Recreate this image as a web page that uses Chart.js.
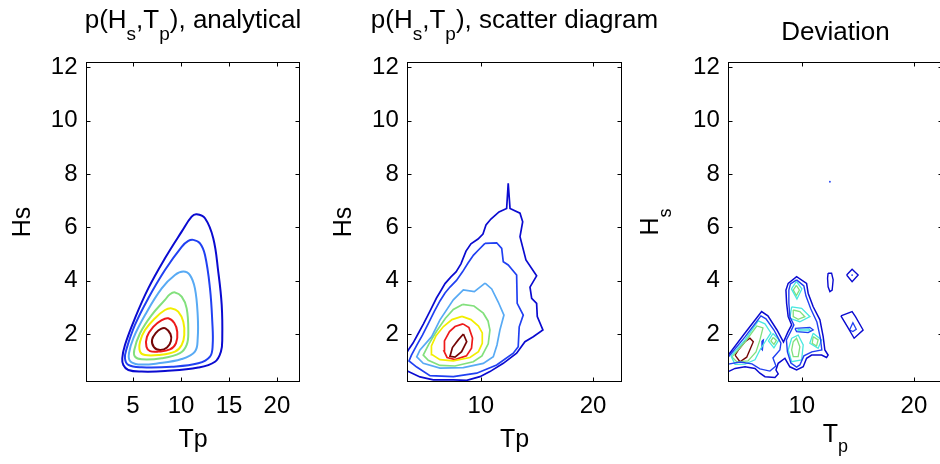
<!DOCTYPE html>
<html>
<head>
<meta charset="utf-8">
<script src="https://cdn.jsdelivr.net/npm/chart.js@4.4.1/dist/chart.umd.min.js"></script>
<style>
  html, body { margin: 0; padding: 0; background: #fff; overflow: hidden; width: 940px; height: 464px; }
  canvas { position: absolute; top: 0; }
</style>
</head>
<body>
<canvas id="analytical" width="320" height="464" style="left:0;width:320px;height:464px"></canvas>
<canvas id="scatter" width="360" height="464" style="left:320px;width:360px;height:464px"></canvas>
<canvas id="deviation" width="320" height="464" style="left:640px;width:320px;height:464px"></canvas>
<script>
// ---- axes ----
const hsTicks = [2, 4, 6, 8, 10, 12];
const tpTicksAnalytical = [5, 10, 15, 20];
const tpTicksScatter = [10, 20];
const hsRange = [0.2, 12.2];
const tpRangeAnalytical = [0.1, 22.4];
const tpRangeScatter = [3.45, 22.55];

// ---- analytical joint density p(Hs,Tp): contour lines [Tp, Hs], outermost level first ----
const anaLevel1 = [[11.63,6.49],[12.50,6.34],[13.36,5.59],[13.88,4.34],[14.24,3.09],[14.30,1.84],[14.16,1.34],[13.54,0.96],[11.80,0.74],[8.33,0.61],[5.90,0.59],[4.51,0.65],[3.99,0.84],[3.88,1.09],[4.16,1.59],[5.20,2.59],[6.59,3.71],[8.33,4.84],[10.07,5.84],[11.11,6.40]];
const anaLevel2 = [[11.28,5.53],[11.98,5.40],[12.50,4.96],[13.02,3.71],[13.26,2.46],[13.30,1.59],[13.02,1.15],[11.80,0.90],[9.03,0.77],[5.90,0.75],[4.51,0.84],[4.16,1.09],[4.34,1.46],[5.20,2.34],[6.59,3.34],[8.33,4.40],[10.07,5.27],[10.76,5.49]];
const anaLevel3 = [[10.24,4.34],[10.93,4.21],[11.45,3.71],[11.74,2.71],[11.74,1.84],[11.45,1.34],[10.07,1.06],[7.63,0.90],[5.55,0.86],[4.68,0.99],[4.58,1.28],[5.03,1.84],[6.25,2.71],[7.99,3.71],[9.37,4.21]];
const anaLevel4 = [[9.37,3.56],[10.07,3.40],[10.59,2.96],[10.76,2.09],[10.59,1.59],[9.89,1.28],[7.99,1.09],[5.90,1.05],[5.20,1.15],[5.13,1.40],[5.73,2.03],[6.94,2.71],[8.33,3.28],[8.85,3.49]];
const anaLevel5 = [[9.03,2.96],[9.71,2.84],[10.24,2.46],[10.34,1.96],[10.07,1.59],[9.37,1.34],[7.63,1.21],[6.25,1.21],[5.73,1.34],[5.73,1.71],[6.25,2.15],[7.29,2.59],[8.33,2.90]];
const anaLevel6 = [[8.67,2.59],[9.30,2.41],[9.61,2.08],[9.48,1.66],[8.85,1.42],[7.63,1.34],[6.77,1.36],[6.40,1.52],[6.45,1.89],[7.11,2.27],[7.99,2.52]];
const anaLevel7 = [[8.38,2.21],[8.90,2.00],[8.95,1.74],[8.54,1.49],[7.81,1.40],[7.18,1.51],[6.98,1.78],[7.39,2.04],[7.91,2.19]];

// ---- scatter-diagram density: contour lines [Tp, Hs] ----
const scatLevel1 = [[3.45,1.33],[3.60,1.44],[3.96,1.66],[4.40,2.00],[4.89,2.38],[5.47,2.86],[6.05,3.35],[6.45,3.63],[6.81,3.89],[7.34,4.14],[7.79,4.33],[8.23,4.63],[8.68,5.11],[9.12,5.38],[9.75,5.56],[10.19,5.75],[10.46,6.09],[10.90,6.31],[11.62,6.58],[12.30,6.71],[12.44,7.65],[12.60,6.71],[13.49,6.53],[13.73,6.21],[13.49,5.65],[14.02,4.78],[14.97,4.18],[14.38,3.76],[14.53,3.34],[14.97,3.15],[15.03,2.65],[15.53,2.15],[14.67,1.90],[13.93,1.71],[13.19,1.28],[12.00,0.90],[10.81,0.59],[9.92,0.40],[8.74,0.26],[7.55,0.28],[5.77,0.28],[4.58,0.39],[3.45,0.61]];
const scatLevel2 = [[10.37,5.40],[11.41,5.42],[11.86,5.21],[12.00,4.71],[12.44,4.59],[13.19,4.21],[13.24,3.15],[13.78,2.71],[13.42,2.27],[13.33,1.52],[12.89,1.28],[11.41,0.84],[9.63,0.53],[7.55,0.40],[5.47,0.44],[4.29,0.76],[3.60,0.99],[3.82,1.21],[4.31,1.59],[4.80,1.96],[5.34,2.41],[5.87,2.86],[6.36,3.24],[6.81,3.54],[7.25,3.76],[7.83,4.01],[8.37,4.33],[8.86,4.66],[9.35,4.96],[9.79,5.15]];
const scatLevel3 = [[10.38,3.91],[10.97,3.69],[11.55,3.20],[12.06,2.71],[11.70,2.15],[11.44,1.59],[11.11,1.15],[10.22,0.90],[8.44,0.74],[6.36,0.72],[4.87,0.90],[4.29,1.14],[4.58,1.40],[5.62,1.90],[6.36,2.53],[7.55,3.28],[8.44,3.65],[9.42,3.59]];
const scatLevel4 = [[8.37,3.11],[9.39,3.05],[10.22,2.78],[10.64,2.49],[10.81,2.15],[10.66,1.63],[10.10,1.18],[9.33,0.96],[7.70,0.80],[6.36,0.82],[5.32,1.01],[4.87,1.21],[5.38,1.63],[6.07,2.11],[6.85,2.59],[7.55,2.92]];
const scatLevel5 = [[8.32,2.66],[9.12,2.54],[9.79,2.30],[10.13,2.04],[10.13,1.65],[9.79,1.34],[9.03,1.12],[7.55,0.99],[6.36,1.04],[5.65,1.23],[5.60,1.55],[6.01,1.94],[6.67,2.28],[7.43,2.54]];
const scatLevel6 = [[8.41,2.38],[8.94,2.24],[9.26,1.85],[9.17,1.47],[8.72,1.18],[7.70,1.04],[6.99,1.12],[6.72,1.36],[6.76,1.74],[7.21,2.09],[7.70,2.28]];
const scatLevel7 = [[8.45,2.00],[8.74,1.71],[8.29,1.34],[7.70,1.13],[7.25,1.16],[7.47,1.49],[7.99,1.78]];

// ---- deviation between the two densities: contour lines [Tp, Hs] ----
const devOuter = [[3.45,1.21],[4.94,2.04],[6.42,2.84],[6.98,2.68],[7.79,2.15],[8.37,1.70],[8.77,2.08],[9.10,2.34],[8.79,2.65],[8.65,3.15],[8.59,3.65],[8.79,3.90],[9.54,4.15],[10.43,3.90],[10.57,3.53],[11.02,3.02],[11.62,2.53],[11.91,1.90],[12.06,1.40],[12.35,1.21],[12.21,1.12],[11.77,1.21],[10.88,1.21],[10.43,1.09],[10.13,0.77],[9.54,0.65],[8.94,0.77],[8.50,1.09],[7.90,0.90],[7.70,0.65],[7.90,0.50],[7.61,0.37],[6.72,0.40],[6.27,0.53],[5.83,0.71],[4.94,0.77],[4.05,0.71],[3.45,0.59]];
const devInnerLeft = [[3.45,1.14],[4.94,1.89],[6.36,2.68],[6.81,2.57],[7.52,2.15],[8.14,1.66],[8.05,1.40],[7.43,1.10],[7.70,0.80],[7.16,0.61],[6.27,0.69],[5.56,0.88],[4.49,0.95],[3.45,0.87]];
const devInnerRight = [[9.54,4.03],[10.19,3.80],[10.37,3.43],[10.81,2.94],[11.35,2.45],[11.66,1.85],[11.79,1.40],[10.90,1.33],[10.19,1.18],[9.83,0.84],[9.54,0.76],[9.03,0.91],[8.72,1.33],[8.63,1.78],[9.03,2.11],[9.30,2.34],[8.94,2.64],[8.85,3.16],[8.85,3.65],[8.99,3.88]];
const devTongue = [[9.39,2.21],[10.72,2.25],[11.02,2.15],[10.57,2.05],[9.54,2.09]];
const devTongueCyan = [[9.65,2.17],[10.63,2.19],[10.77,2.13],[9.65,2.12]];
const devCyanTop = [[9.52,3.97],[10.01,3.69],[9.57,3.31],[9.08,3.69]];
const devGreenTop = [[9.52,3.82],[9.79,3.65],[9.52,3.44],[9.25,3.65]];
const devCyanMid = [[9.10,3.02],[9.99,2.96],[10.73,2.65],[9.83,2.46],[8.94,2.59]];
const devGreenMid = [[9.24,2.90],[9.83,2.84],[10.28,2.65],[9.68,2.55],[9.24,2.65]];
const devCyanLow = [[9.10,1.84],[9.68,1.96],[10.13,1.59],[9.99,1.03],[9.10,0.96],[8.79,1.40]];
const devGreenLow = [[9.24,1.71],[9.54,1.84],[9.83,1.52],[9.68,1.15],[9.24,1.15],[9.10,1.40]];
const devCyanRight = [[11.02,2.03],[11.77,1.78],[11.46,1.46],[10.72,1.65]];
const devGreenRight = [[11.02,1.90],[11.46,1.78],[11.32,1.55],[10.93,1.65]];
const devCyanLeft = [[3.69,1.18],[4.94,1.78],[6.12,2.49],[6.72,2.38],[7.25,2.04],[6.72,1.70],[6.27,1.40],[5.83,1.03],[4.94,0.87],[4.05,0.86]];
const devGreenLeft = [[3.78,1.14],[4.94,1.70],[5.99,2.30],[6.54,2.23],[6.27,1.78],[5.92,1.33],[5.21,0.99],[4.23,0.95]];
const devPeak = [[4.05,1.21],[4.49,0.96],[5.09,1.13],[5.68,1.71],[5.38,1.84],[4.94,1.71],[4.34,1.40]];
const devGreenSmall = [[7.46,1.87],[7.74,1.76],[7.52,1.61],[7.25,1.74]];
const devCyanSmall = [[7.43,2.02],[7.96,1.78],[7.52,1.48],[7.03,1.74]];
const devSliver = [[6.45,1.74],[6.58,1.78],[6.49,1.40],[6.41,1.44]];
const devEllipse = [[12.35,4.28],[12.66,4.28],[12.80,4.03],[12.71,3.65],[12.51,3.59],[12.35,3.77],[12.30,4.09]];
const devDiamond = [[14.00,4.21],[14.49,4.43],[15.03,4.21],[14.49,3.96]];
const devPatch = [[13.49,2.68],[14.49,2.84],[14.79,2.65],[15.47,2.15],[14.67,1.84],[14.08,2.27]];
const devPatchInner = [[14.26,2.15],[14.56,2.42],[14.86,2.18],[14.56,2.09]];
const devDots = [[12.51,7.71],[14.49,4.21]];

// ---- styling ----
const FONT = "'Liberation Sans', Arial, Helvetica, sans-serif";
const jet = {
  navy: '#0a0ad0', blue: '#2040f2', sky: '#58aaf4', cyan: '#48e8e0',
  green: '#82e07c', yellow: '#f2ee00', red: '#ee1a1a', maroon: '#740606'
};
Chart.defaults.font.family = FONT;

const toXY = pts => pts.map(([x, y]) => ({ x, y }));

// Smooth closed curve: pad with wrap-around neighbours so the joint stays smooth,
// and hide the two padding segments.
function smoothLoop(pts, color, width) {
  const n = pts.length;
  const data = toXY([pts[n - 1], ...pts, pts[0], pts[1]]);
  return {
    data, showLine: true, borderColor: color, borderWidth: width,
    pointRadius: 0, tension: 0.4, fill: false,
    segment: { borderColor: c => (c.p0DataIndex < 1 || c.p0DataIndex > n) ? 'rgba(0,0,0,0)' : undefined }
  };
}
function polyLoop(pts, color, width) {
  return { data: toXY([...pts, pts[0]]), showLine: true, borderColor: color, borderWidth: width,
           pointRadius: 0, tension: 0, fill: false };
}
function polyOpen(pts, color, width) {
  return { data: toXY(pts), showLine: true, borderColor: color, borderWidth: width,
           pointRadius: 0, tension: 0, fill: false };
}

// Box frame with inward tick marks on all four sides
const framePlugin = {
  id: 'frame',
  afterDraw(chart) {
    const { ctx, chartArea: a, scales: { x, y } } = chart;
    const L = 4;
    const left = Math.round(a.left) + 0.5, right = Math.round(a.right) - 0.5;
    const top = Math.round(a.top) + 0.5, bottom = Math.round(a.bottom) - 0.5;
    ctx.save();
    ctx.strokeStyle = '#000';
    ctx.lineWidth = 1;
    ctx.beginPath();
    x.ticks.forEach(t => {
      const px = Math.round(x.getPixelForValue(t.value)) + 0.5;
      ctx.moveTo(px, bottom); ctx.lineTo(px, bottom - L);
      ctx.moveTo(px, top); ctx.lineTo(px, top + L);
    });
    y.ticks.forEach(t => {
      const py = Math.round(y.getPixelForValue(t.value)) + 0.5;
      ctx.moveTo(left, py); ctx.lineTo(left + L, py);
      ctx.moveTo(right, py); ctx.lineTo(right - L, py);
    });
    ctx.stroke();
    ctx.strokeRect(left, top, right - left, bottom - top);
    ctx.restore();
  }
};

// Text runs with TeX-like subscripts: parts = [[text, isSubscript], ...]
function drawRich(ctx, parts, cx, base, st) {
  const fontOf = s => `${s ? st.sub : st.size}px ${FONT}`;
  let w = 0;
  parts.forEach(([t, s]) => { ctx.font = fontOf(s); w += ctx.measureText(t).width; });
  let x = cx - w / 2;
  ctx.textAlign = 'left';
  ctx.textBaseline = 'alphabetic';
  parts.forEach(([t, s]) => {
    ctx.font = fontOf(s);
    ctx.fillText(t, x, base + (s ? st.drop : 0));
    x += ctx.measureText(t).width;
  });
}

const labelsPlugin = {
  id: 'panelLabels',
  afterDraw(chart, args, o) {
    const { ctx, chartArea: a } = chart;
    const cx = (a.left + a.right) / 2, cy = (a.top + a.bottom) / 2;
    ctx.save();
    ctx.fillStyle = '#000';
    drawRich(ctx, o.title, cx, o.titleBase, { size: 26, sub: 19, drop: 12 });
    drawRich(ctx, o.xLabel, cx, a.bottom + o.xGap, { size: 25, sub: 18, drop: 10 });
    ctx.translate(a.left - o.yGap, cy);
    ctx.rotate(-Math.PI / 2);
    drawRich(ctx, o.yLabel, 0, 0, { size: 25, sub: 18, drop: 13 });
    ctx.restore();
  }
};

function makePanel(id, datasets, tpRange, tpTicks, yAxisWidth, padRight, labels) {
  return new Chart(document.getElementById(id), {
    type: 'scatter',
    data: { datasets },
    options: {
      responsive: false,
      animation: false,
      events: [],
      layout: { padding: { left: 0, right: padRight, top: 62, bottom: 0 } },
      plugins: { legend: { display: false }, tooltip: { enabled: false }, panelLabels: labels },
      scales: {
        x: {
          type: 'linear', bounds: 'data', min: tpRange[0], max: tpRange[1],
          afterBuildTicks: s => { s.ticks = tpTicks.map(v => ({ value: v })); },
          afterFit: s => { s.height = 82; },
          grid: { display: false, drawTicks: false, tickLength: 0 },
          border: { display: false },
          ticks: { color: '#000', font: { size: 24 }, padding: 10, maxRotation: 0, autoSkip: false }
        },
        y: {
          type: 'linear', bounds: 'data', min: hsRange[0], max: hsRange[1],
          afterBuildTicks: s => { s.ticks = hsTicks.map(v => ({ value: v })); },
          afterFit: s => { s.width = yAxisWidth; },
          grid: { display: false, drawTicks: false, tickLength: 0 },
          border: { display: false },
          ticks: { color: '#000', font: { size: 24 }, padding: 8.5, autoSkip: false }
        }
      }
    },
    plugins: [framePlugin, labelsPlugin]
  });
}

// Panel 1: analytical density
makePanel('analytical', [
  smoothLoop(anaLevel1, jet.navy, 2),
  smoothLoop(anaLevel2, jet.blue, 2),
  smoothLoop(anaLevel3, jet.sky, 2),
  smoothLoop(anaLevel4, jet.green, 2),
  smoothLoop(anaLevel5, jet.yellow, 2),
  smoothLoop(anaLevel6, jet.red, 2),
  smoothLoop(anaLevel7, jet.maroon, 2)
], tpRangeAnalytical, tpTicksAnalytical, 86, 20, {
  title: [['p(H', 0], ['s', 1], [',T', 0], ['p', 1], ['), analytical', 0]], titleBase: 28,
  xLabel: [['Tp', 0]], xGap: 65,
  yLabel: [['Hs', 0]], yGap: 56
});

// Panel 2: density from the scatter diagram
makePanel('scatter', [
  polyOpen(scatLevel1, jet.navy, 1.7),
  polyLoop(scatLevel2, jet.blue, 1.7),
  polyLoop(scatLevel3, jet.sky, 1.7),
  polyLoop(scatLevel4, jet.green, 1.7),
  polyLoop(scatLevel5, jet.yellow, 1.7),
  polyLoop(scatLevel6, jet.red, 1.7),
  polyLoop(scatLevel7, jet.maroon, 1.7)
], tpRangeScatter, tpTicksScatter, 87.3, 58.3, {
  title: [['p(H', 0], ['s', 1], [',T', 0], ['p', 1], ['), scatter diagram', 0]], titleBase: 28,
  xLabel: [['Tp', 0]], xGap: 65,
  yLabel: [['Hs', 0]], yGap: 56
});

// Panel 3: deviation
makePanel('deviation', [
  polyOpen(devOuter, jet.navy, 1.5),
  polyOpen(devInnerLeft, jet.blue, 1.4),
  polyLoop(devInnerRight, jet.blue, 1.4),
  polyLoop(devTongue, jet.blue, 1.3),
  polyLoop(devTongueCyan, jet.cyan, 1.3),
  polyLoop(devCyanTop, jet.cyan, 1.3),
  polyLoop(devGreenTop, jet.green, 1.3),
  polyLoop(devCyanMid, jet.cyan, 1.3),
  polyLoop(devGreenMid, jet.green, 1.3),
  polyLoop(devCyanLow, jet.cyan, 1.3),
  polyLoop(devGreenLow, jet.green, 1.3),
  polyLoop(devCyanRight, jet.cyan, 1.3),
  polyLoop(devGreenRight, jet.green, 1.3),
  polyLoop(devCyanLeft, jet.cyan, 1.3),
  polyLoop(devGreenLeft, jet.green, 1.3),
  polyLoop(devPeak, jet.maroon, 1.4),
  polyLoop(devCyanSmall, jet.cyan, 1.3),
  polyLoop(devGreenSmall, jet.green, 1.3),
  polyLoop(devSliver, jet.blue, 1.3),
  polyLoop(devEllipse, jet.navy, 1.4),
  polyLoop(devDiamond, jet.navy, 1.4),
  polyLoop(devPatch, jet.navy, 1.4),
  polyLoop(devPatchInner, jet.blue, 1.3),
  { data: toXY(devDots), showLine: false, pointRadius: 0.9, pointBorderWidth: 0,
    pointBackgroundColor: jet.blue, backgroundColor: jet.blue }
], tpRangeScatter, tpTicksScatter, 88.3, 17.5, {
  title: [['Deviation', 0]], titleBase: 40,
  xLabel: [['T', 0], ['p', 1]], xGap: 60,
  yLabel: [['H', 0], ['s', 1]], yGap: 70
});
</script>
</body>
</html>
